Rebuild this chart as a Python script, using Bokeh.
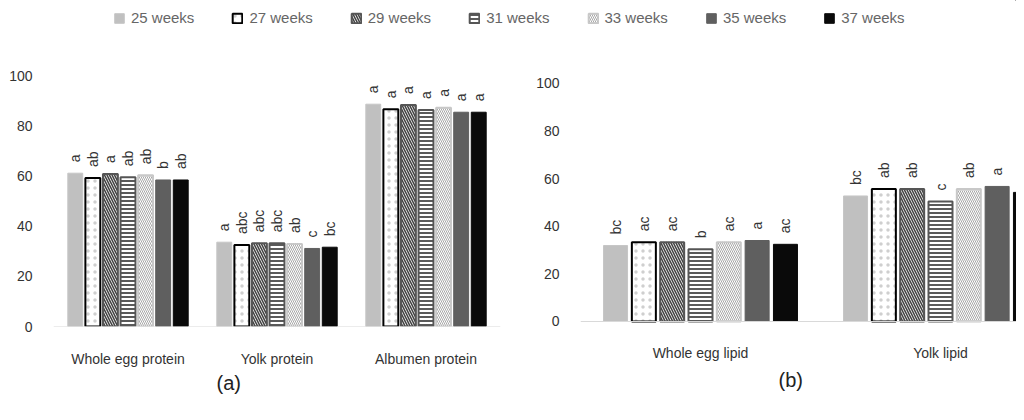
import math
from bokeh.plotting import figure
from bokeh.models import ColumnDataSource, Legend, LegendItem, FixedTicker, Title, Range1d, Span
from bokeh.layouts import column, row
from bokeh.embed import file_html
from bokeh.resources import INLINE
from bokeh.core.properties import value

# ---------------- data ----------------
series = ["25 weeks", "27 weeks", "29 weeks", "31 weeks", "33 weeks", "35 weeks", "37 weeks"]

protein_categories = ["Whole egg protein", "Yolk protein", "Albumen protein"]
whole_egg_protein = [61.1, 59.2, 60.8, 59.5, 60.3, 58.4, 58.4]
yolk_protein = [33.6, 32.5, 33.2, 33.2, 32.9, 31.1, 31.6]
albumen_protein = [88.6, 86.6, 88.3, 86.3, 87.2, 85.4, 85.4]
whole_egg_protein_letters = ["a", "ab", "a", "ab", "ab", "b", "ab"]
yolk_protein_letters = ["a", "abc", "abc", "abc", "ab", "c", "bc"]
albumen_protein_letters = ["a", "a", "a", "a", "a", "a", "a"]

lipid_categories = ["Whole egg lipid", "Yolk lipid"]
whole_egg_lipid = [31.9, 33.3, 33.3, 30.3, 33.3, 34.0, 32.4]
yolk_lipid = [52.7, 55.6, 55.6, 50.4, 55.6, 56.7, 54.2]
whole_egg_lipid_letters = ["bc", "ac", "ac", "b", "ac", "a", "ac"]
yolk_lipid_letters = ["bc", "ab", "ab", "c", "ab", "a", "ab"]

y_ticks = [0, 20, 40, 60, 80, 100]

# ---------------- styles ----------------
styles = [
    dict(fill_color="#c0c0c0", line_color="#c6c6c6", line_width=1),
    dict(fill_color="white", line_color="#000000", line_width=2,
         hatch_pattern="dot", hatch_color="#cfcfcf", hatch_scale=7, hatch_weight=1),
    dict(fill_color="white", line_color="#555555", line_width=2,
         hatch_pattern="left_diagonal_line", hatch_color="#444444", hatch_scale=5, hatch_weight=1.6),
    dict(fill_color="white", line_color="#555555", line_width=2,
         hatch_pattern="horizontal_line", hatch_color="#5a5a5a", hatch_scale=4, hatch_weight=2),
    dict(fill_color="white", line_color="#c8c8c8", line_width=2,
         hatch_pattern="left_diagonal_line", hatch_color="#a8a8a8", hatch_scale=4, hatch_weight=1),
    dict(fill_color="#5f5f5f", line_color="#5f5f5f", line_width=1),
    dict(fill_color="#0a0a0a", line_color="#0a0a0a", line_width=1),
]

PITCH = 0.118
BAR_W = 0.1
FONT = "Liberation Sans"
TXT = "#333333"
FIG_H = 380
MB_TOP = 20
MB_BOTTOM = 84


def make_panel(categories, values_by_cat, letters_by_cat, width,
               mb_left, mb_right, x_end, y_start, y_end, tag, tag_offset,
               label_standoff, tag_standoff):
    p = figure(width=width, height=FIG_H, output_backend="svg", toolbar_location=None,
               x_range=Range1d(-0.5, x_end), y_range=Range1d(y_start, y_end),
               min_border_left=mb_left, min_border_right=mb_right,
               min_border_top=MB_TOP, min_border_bottom=MB_BOTTOM)
    p.outline_line_color = None
    p.grid.visible = False
    p.add_layout(Span(location=0, dimension="width", line_color="#d9d9d9", line_width=1))
    n = len(series)
    for i in range(n):
        xs = [c + (i - (n - 1) / 2) * PITCH for c in range(len(categories))]
        tops = [values_by_cat[c][i] for c in range(len(categories))]
        labs = [letters_by_cat[c][i] for c in range(len(categories))]
        src = ColumnDataSource(dict(x=xs, top=tops, lab=labs))
        p.vbar(x="x", top="top", bottom=0, width=BAR_W, source=src, **styles[i])
        p.text(x="x", y="top", text="lab", source=src, angle=math.pi / 2,
               text_align="left", text_baseline="middle", y_offset=-11,
               text_font=value(FONT), text_font_size="14px", text_color=TXT)
    xa = p.xaxis[0]
    xa.ticker = FixedTicker(ticks=list(range(len(categories))))
    xa.major_label_overrides = {i: c for i, c in enumerate(categories)}
    xa.axis_line_color = None
    xa.major_tick_line_color = None
    xa.minor_tick_line_color = None
    xa.major_tick_out = 0
    xa.major_label_standoff = label_standoff
    xa.major_label_text_font = FONT
    xa.major_label_text_font_size = "14px"
    xa.major_label_text_color = TXT
    ya = p.yaxis[0]
    ya.ticker = FixedTicker(ticks=y_ticks)
    ya.axis_line_color = None
    ya.major_tick_line_color = None
    ya.minor_tick_line_color = None
    ya.major_tick_out = 0
    ya.major_label_standoff = 21
    ya.major_label_text_font = FONT
    ya.major_label_text_font_size = "14px"
    ya.major_label_text_color = TXT
    t = Title(text=tag, align="left", offset=tag_offset, standoff=tag_standoff,
              text_font=FONT, text_font_size="20px", text_font_style="normal",
              text_color="#222222")
    p.add_layout(t, "below")
    return p


# both frames span the same 276 px vertically; panel (b) uses its own value scale
pa = make_panel(protein_categories,
                [whole_egg_protein, yolk_protein, albumen_protein],
                [whole_egg_protein_letters, yolk_protein_letters, albumen_protein_letters],
                520, 53, 20, 2.5, 0, 110, "(a)", 163, 24, 0)
pb = make_panel(lipid_categories,
                [whole_egg_lipid, yolk_lipid],
                [whole_egg_lipid_letters, yolk_lipid_letters],
                496, 60, 0, -0.5 + 436 / 240, -2.1, 113.77, "(b)", 198, 18, 6)

# ---------------- legend strip ----------------
pl = figure(width=1016, height=30, output_backend="svg", toolbar_location=None,
            x_range=Range1d(0, 1), y_range=Range1d(0, 1),
            min_border_left=0, min_border_right=0, min_border_top=0, min_border_bottom=0)
pl.outline_line_color = None
pl.grid.visible = False
pl.axis.visible = False
items = []
for i, s in enumerate(series):
    r = pl.vbar(x=[50], top=[51], bottom=50, width=0.1, **styles[i])
    items.append(LegendItem(label=s, renderers=[r]))
leg = Legend(items=items, orientation="horizontal", location=(113, 4),
             glyph_width=12, glyph_height=12, label_standoff=6, spacing=37,
             padding=0, margin=0, border_line_color=None, background_fill_alpha=0,
             label_text_font=FONT, label_text_font_size="15px", label_text_color="#666666",
             label_height=14)
pl.add_layout(leg, "center")

layout = column(pl, row(pa, pb, spacing=0), spacing=0)
open("out.html", "w").write(file_html(layout, INLINE))
